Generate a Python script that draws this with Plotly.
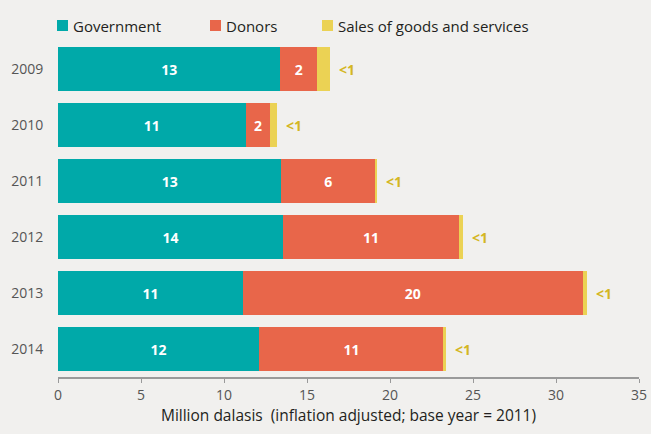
import plotly.graph_objects as go

# Funding sources by year, million dalasis (inflation adjusted; base year 2011)
years = ["2009", "2010", "2011", "2012", "2013", "2014"]
government = [13.4, 11.3, 13.45, 13.55, 11.15, 12.1]
donors = [2.2, 1.5, 5.65, 10.6, 20.45, 11.15]
sales = [0.8, 0.4, 0.12, 0.22, 0.24, 0.12]

series_names = ["Government", "Donors", "Sales of goods and services"]
colors = ["#00a9a9", "#e8664a", "#ebd254"]
x_ticks = [0, 5, 10, 15, 20, 25, 30, 35]

BG = "#f1f0ee"
FONT = "Open Sans"
W, H = 651, 434
ML, MR, MT, MB = 58, 12, 41, 57
PW, PH = W - ML - MR, H - MT - MB


def px_x(p):
    return (p - ML) / PW


def px_y(p):
    return (H - MB - p) / PH


def rounded(v):
    return str(int(v + 0.5))


fig = go.Figure()
for name, vals, col, show_text in zip(series_names, [government, donors, sales], colors,
                                      [True, True, False]):
    fig.add_trace(go.Bar(
        y=years, x=vals, orientation="h", name=name,
        marker=dict(color=col, line=dict(width=0)),
        text=[rounded(v) for v in vals] if show_text else None,
        textposition="inside" if show_text else "none",
        insidetextanchor="middle",
        textangle=0,
        constraintext="none",
        insidetextfont=dict(family=FONT, size=14, color="white", weight="bold"),
        showlegend=False,
    ))

# "<1" labels just past the end of each bar (category index used as y position)
annotations = []
for i, (g, d, s) in enumerate(zip(government, donors, sales)):
    total = g + d + s
    annotations.append(dict(
        x=total, y=i, xref="x", yref="y", text="<1" if s < 1 else rounded(s),
        showarrow=False, xanchor="left", yanchor="middle", xshift=7,
        font=dict(family=FONT, size=14, color="#d4b623", weight="bold"),
    ))

# Legend drawn as swatches with labels
shapes = []
legend_items = [(57, 71), (210, 224), (322, 336)]
for (sx, tx), name, col in zip(legend_items, series_names, colors):
    shapes.append(dict(type="rect", xref="paper", yref="paper",
                       x0=px_x(sx), x1=px_x(sx + 11), y0=px_y(31), y1=px_y(20),
                       fillcolor=col, line=dict(width=0)))
    annotations.append(dict(x=px_x(tx), y=px_y(26), xref="paper", yref="paper",
                            text=name, showarrow=False, xanchor="left", yanchor="middle",
                            font=dict(family=FONT, size=15, color="#231f20")))

fig.update_layout(
    width=W, height=H,
    margin=dict(l=ML, r=MR, t=MT, b=MB, pad=0),
    paper_bgcolor=BG, plot_bgcolor=BG,
    barmode="stack", bargap=0.214,
    showlegend=False,
    font=dict(family=FONT, size=14, color="#555555"),
    xaxis=dict(
        range=[0, 35], tickvals=x_ticks, ticks="outside", ticklen=4, tickcolor="#9a9a9a",
        showline=True, linecolor="#9a9a9a", linewidth=1.5, showgrid=False, zeroline=False,
        tickfont=dict(family=FONT, size=14, color="#555555"),
        title=dict(text="Million dalasis  (inflation adjusted; base year = 2011)",
                   font=dict(family=FONT, size=15.5, color="#231f20"), standoff=6),
        automargin=False,
        fixedrange=True,
    ),
    yaxis=dict(
        type="category",
        categoryorder="array", categoryarray=years,
        range=[len(years) - 0.5, -0.5],
        showgrid=False, zeroline=False, showline=False, ticks="outside",
        ticklen=11, tickcolor="rgba(0,0,0,0)",
        tickfont=dict(family=FONT, size=14, color="#555555"),
        automargin=False,
        fixedrange=True,
    ),
    shapes=shapes,
    annotations=annotations,
)

fig.write_html("out.html")
